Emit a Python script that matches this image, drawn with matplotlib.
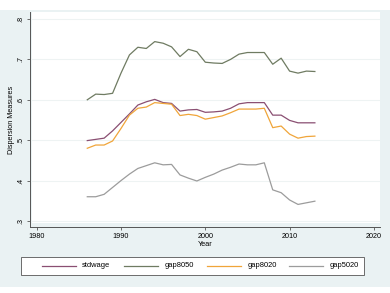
import matplotlib
matplotlib.use('Agg')
import matplotlib.pyplot as plt
from matplotlib.patches import Rectangle
from matplotlib.lines import Line2D

plt.rcParams['font.family'] = ['Liberation Sans', 'DejaVu Sans']

years = list(range(1986, 2014))
stdwage = [0.499, 0.502, 0.505, 0.523, 0.544, 0.565, 0.587, 0.595, 0.601, 0.593,
           0.591, 0.572, 0.575, 0.576, 0.569, 0.570, 0.572, 0.579, 0.590, 0.593,
           0.593, 0.593, 0.562, 0.562, 0.549, 0.543, 0.543, 0.543]
gap8050 = [0.600, 0.614, 0.613, 0.616, 0.666, 0.711, 0.730, 0.727, 0.744, 0.740,
           0.731, 0.707, 0.725, 0.719, 0.693, 0.691, 0.690, 0.700, 0.713, 0.717,
           0.717, 0.717, 0.688, 0.703, 0.671, 0.666, 0.671, 0.670]
gap8020 = [0.480, 0.488, 0.488, 0.498, 0.529, 0.562, 0.579, 0.582, 0.593, 0.591,
           0.589, 0.561, 0.564, 0.561, 0.552, 0.556, 0.560, 0.568, 0.577, 0.577,
           0.577, 0.579, 0.531, 0.535, 0.515, 0.505, 0.509, 0.510]
gap5020 = [0.360, 0.360, 0.366, 0.383, 0.400, 0.416, 0.430, 0.437, 0.444, 0.439,
           0.440, 0.414, 0.406, 0.399, 0.408, 0.416, 0.426, 0.433, 0.441, 0.439,
           0.439, 0.444, 0.377, 0.370, 0.352, 0.341, 0.345, 0.349]

series = [('stdwage', stdwage, '#8a4f72'),
          ('gap8050', gap8050, '#6f7b62'),
          ('gap8020', gap8020, '#f0a53a'),
          ('gap5020', gap5020, '#9c9c9c')]

xticks = [1980, 1990, 2000, 2010, 2020]
yticks = [0.3, 0.4, 0.5, 0.6, 0.7, 0.8]
ylabels = ['.3', '.4', '.5', '.6', '.7', '.8']

bg = '#eaf2f3'
W, H = 390, 293
fig = plt.figure(figsize=(W / 100, H / 100), dpi=100, facecolor='white')
fig.patches.append(Rectangle((0, 6 / H), 1, 277 / H, transform=fig.transFigure,
                             facecolor=bg, edgecolor='none', zorder=-10))

ax = fig.add_axes([30 / W, (H - 227) / H, 350 / W, 215 / H])
ax.set_facecolor(bg)
ax.add_patch(Rectangle((2 / 350, 4.5 / 215), 1, 1, transform=ax.transAxes,
                       facecolor='white', edgecolor='none', zorder=0))

for name, vals, col in series:
    ax.plot(years, vals, color=col, lw=0.9, label=name, zorder=3)

ax.set_xlim(1979.205, 2020.725)
ax.set_ylim(0.2851, 0.8173)
ax.set_xticks(xticks)
ax.set_yticks(yticks)
ax.set_yticklabels(ylabels, rotation=90, va='center')
for y in yticks:
    ax.axhline(y, color='#eef3f3', lw=0.8, zorder=1)

for s in ['top', 'right']:
    ax.spines[s].set_visible(False)
for s in ['left', 'bottom']:
    ax.spines[s].set_color('#555555')
    ax.spines[s].set_linewidth(0.7)
ax.tick_params(length=2.5, width=0.6, color='#555555', labelsize=5.2, pad=1.5)

ax.set_xlabel('Year', fontsize=5.2, labelpad=1)
ax.set_ylabel('Dispersion Measures', fontsize=5.2, labelpad=2)

# legend box drawn by hand, Stata style: one row, short keys
fig.patches.append(Rectangle((20.7 / W, (H - 275) / H), 343.6 / W, 18.3 / H,
                             transform=fig.transFigure, facecolor='white',
                             edgecolor='#555555', lw=0.6, zorder=5))
ly = (H - 265.8) / H
for i, (name, vals, col) in enumerate(series):
    x0 = 41.7 + i * 82.5
    fig.lines.append(Line2D([x0 / W, (x0 + 34) / W], [ly, ly], transform=fig.transFigure,
                            color=col, lw=0.9, zorder=6))
    fig.text((x0 + 40.5) / W, ly, name, fontsize=5.4, va='center', ha='left', zorder=6)

fig.savefig('out.png', dpi=100, facecolor=fig.get_facecolor())
